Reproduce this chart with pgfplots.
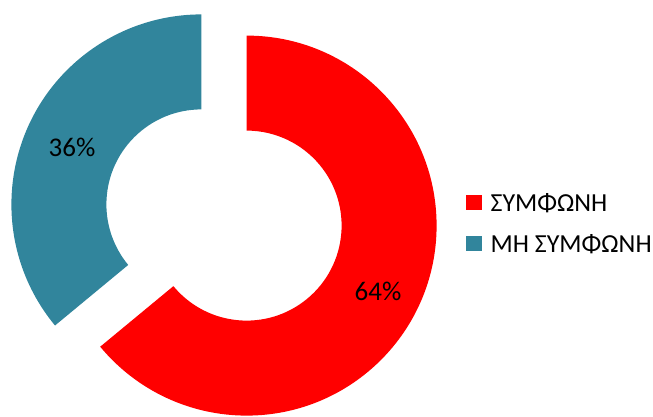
\documentclass[border=0pt]{standalone}
\usepackage{fontspec}
\setmainfont{Carlito}
\usepackage{pgfplots}
\usepackage{pgfplotstable}
\pgfplotsset{compat=1.18}
\definecolor{agree}{HTML}{FF0000}
\definecolor{disagree}{HTML}{31859C}
\pgfplotstableread{
value
64
36
}\datatable
\begin{document}
\begin{tikzpicture}
\pgfplotstablegetelem{0}{value}\of\datatable
\pgfmathsetmacro{\va}{\pgfplotsretval}
\pgfplotstablegetelem{1}{value}\of\datatable
\pgfmathsetmacro{\vb}{\pgfplotsretval}
\pgfmathsetmacro{\aA}{90}
\pgfmathsetmacro{\aB}{90-3.6*\va}
\pgfmathsetmacro{\aC}{\aB-3.6*\vb}
\begin{axis}[
  width=653pt, height=416pt, scale only axis,
  xmin=0, xmax=653, ymin=0, ymax=416,
  hide axis, clip=false,
  legend style={draw=none, fill=none, at={(axis cs:466,225)}, anchor=north west,
    font=\fontsize{26}{30}\selectfont, row sep=18pt, column sep=7pt, inner sep=0pt,
    nodes={inner sep=2pt}},
  legend cell align=left,
]
\addlegendimage{legend image code/.code={\fill[agree] (0pt,-6pt) rectangle (15pt,8pt);}}
\addlegendentry{ΣΥΜΦΩΝΗ}
\addlegendimage{legend image code/.code={\fill[disagree] (0pt,-6pt) rectangle (15pt,8pt);}}
\addlegendentry{ΜΗ ΣΥΜΦΩΝΗ}
\fill[agree] ([shift={(\aA:190pt)}]axis cs:246.6,190.4) arc[start angle=\aA, end angle=\aB, radius=190pt]
  -- ([shift={(\aB:95pt)}]axis cs:246.6,190.4) arc[start angle=\aB, end angle=\aA, radius=95pt] -- cycle;
\fill[disagree] ([shift={(\aB:190pt)}]axis cs:201.4,211.6) arc[start angle=\aB, end angle=\aC, radius=190pt]
  -- ([shift={(\aC:95pt)}]axis cs:201.4,211.6) arc[start angle=\aC, end angle=\aB, radius=95pt] -- cycle;
\node[font=\fontsize{27}{31}\selectfont] at (axis cs:378,125) {64\%};
\node[font=\fontsize{27}{31}\selectfont] at (axis cs:72,269) {36\%};
\end{axis}
\pgfresetboundingbox
\path[use as bounding box] (current axis.south west) rectangle (current axis.north east);
\end{tikzpicture}
\end{document}
